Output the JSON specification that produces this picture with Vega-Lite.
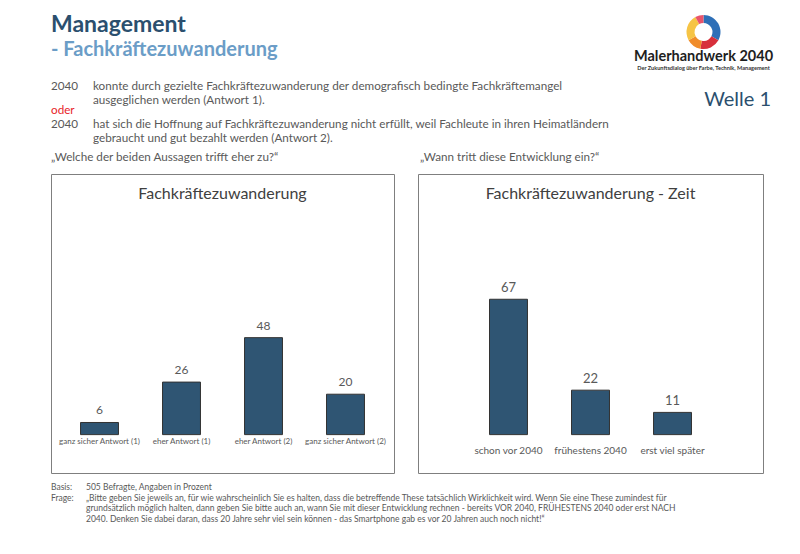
{
  "$schema": "https://vega.github.io/schema/vega-lite/v6.json",
  "padding": {"left": 50, "top": 0, "right": 0, "bottom": 0},
  "background": "white",
  "spacing": 6,
  "config": {
    "font": "Lato",
    "view": {"stroke": null},
    "axis": {"labelFont": "Lato"}
  },
  "datasets": {
    "kopf": [
      {"role": "title", "line": 1, "col": 0, "text": "Management"},
      {"role": "subtitle", "line": 3, "col": 0, "text": "- Fachkräftezuwanderung"},
      {"role": "ring", "line": 2, "col": 3, "nr": 1, "segment": "blau", "share": 33},
      {"role": "ring", "line": 2, "col": 3, "nr": 2, "segment": "rot", "share": 20},
      {"role": "ring", "line": 2, "col": 3, "nr": 3, "segment": "orange", "share": 14},
      {"role": "ring", "line": 2, "col": 3, "nr": 4, "segment": "gelb", "share": 25},
      {"role": "ring", "line": 2, "col": 3, "nr": 5, "segment": "rosa", "share": 8},
      {"role": "brand", "line": 4, "col": 3, "text": "Malerhandwerk 2040"},
      {"role": "tagline", "line": 5, "col": 3, "text": "Der Zukunftsdialog über Farbe, Technik, Management"},
      {"role": "body", "line": 6, "col": 0, "text": "2040"},
      {"role": "body", "line": 6, "col": 1, "text": "konnte durch gezielte Fachkräftezuwanderung der demografisch  bedingte Fachkräftemangel"},
      {"role": "body", "line": 7, "col": 1, "text": "ausgeglichen werden (Antwort 1)."},
      {"role": "welle", "line": 7, "col": 4, "text": "Welle 1"},
      {"role": "oder", "line": 8, "col": 0, "text": "oder"},
      {"role": "body", "line": 9, "col": 0, "text": "2040"},
      {"role": "body", "line": 9, "col": 1, "text": "hat sich die Hoffnung auf Fachkräftezuwanderung nicht erfüllt, weil Fachleute  in ihren Heimatländern"},
      {"role": "body", "line": 10, "col": 1, "text": "gebraucht und gut bezahlt werden (Antwort 2)."},
      {"role": "body", "line": 11, "col": 0, "text": "„Welche der beiden Aussagen trifft eher zu?“"},
      {"role": "body", "line": 11, "col": 2, "text": "„Wann tritt diese Entwicklung ein?“"}
    ],
    "aussage": [
      {"antwort": "ganz sicher Antwort (1)", "anteil": 6},
      {"antwort": "eher Antwort (1)", "anteil": 26},
      {"antwort": "eher Antwort (2)", "anteil": 48},
      {"antwort": "ganz sicher Antwort (2)", "anteil": 20}
    ],
    "zeit": [
      {"zeitpunkt": "schon vor 2040", "anteil": 67},
      {"zeitpunkt": "frühestens 2040", "anteil": 22},
      {"zeitpunkt": "erst viel später", "anteil": 11}
    ],
    "fuss": [
      {"line": 1, "col": 0, "text": "Basis:"},
      {"line": 1, "col": 1, "text": "505 Befragte, Angaben in Prozent"},
      {"line": 2, "col": 0, "text": "Frage:"},
      {"line": 2, "col": 1, "text": "„Bitte geben Sie jeweils an, für wie wahrscheinlich Sie es halten, dass die betreffende These tatsächlich Wirklichkeit wird. Wenn Sie eine These zumindest für"},
      {"line": 3, "col": 1, "text": "grundsätzlich möglich halten, dann geben Sie bitte auch an, wann Sie mit dieser Entwicklung rechnen  - bereits VOR 2040, FRÜHESTENS 2040 oder erst NACH"},
      {"line": 4, "col": 1, "text": "2040. Denken Sie dabei daran, dass 20 Jahre sehr viel sein können - das Smartphone gab es vor 20 Jahren  auch noch nicht!“"}
    ]
  },
  "vconcat": [
    {
      "width": 723,
      "height": 167,
      "data": {"name": "kopf"},
      "encoding": {
        "x": {"field": "col", "type": "quantitative", "axis": null,
              "scale": {"domain": [0, 1, 2, 3, 4], "range": [0, 42, 369, 652.5, 720], "zero": false, "nice": false}},
        "y": {"field": "line", "type": "quantitative", "axis": null,
              "scale": {"domain": [1, 2, 3, 4, 5, 6, 7, 8, 9, 10, 11],
                        "range": [25, 32, 50, 57, 68, 86.2, 100.2, 110, 123.5, 137.5, 156.5], "zero": false, "nice": false}}
      },
      "layer": [
        {
          "transform": [{"filter": "datum.role === 'title'"}],
          "mark": {"type": "text", "align": "left", "baseline": "middle", "fontSize": 23, "fontWeight": "bold", "color": "#2b4f6e"},
          "encoding": {"text": {"field": "text"}}
        },
        {
          "transform": [{"filter": "datum.role === 'subtitle'"}],
          "mark": {"type": "text", "align": "left", "baseline": "middle", "fontSize": 20, "fontWeight": "bold", "color": "#6b9dc7"},
          "encoding": {"text": {"field": "text"}}
        },
        {
          "transform": [{"filter": "datum.role === 'ring'"}],
          "mark": {"type": "arc", "outerRadius": 17, "innerRadius": 9},
          "encoding": {
            "theta": {"field": "share", "type": "quantitative", "stack": true},
            "order": {"field": "nr"},
            "color": {"field": "segment", "type": "nominal", "legend": null,
                      "scale": {"domain": ["blau", "rot", "orange", "gelb", "rosa"],
                                "range": ["#2e6fb7", "#d7303b", "#f08c2a", "#f6c445", "#e9546b"]}}
          }
        },
        {
          "transform": [{"filter": "datum.role === 'brand'"}],
          "mark": {"type": "text", "align": "center", "baseline": "middle", "fontSize": 14.5, "fontWeight": "bold", "color": "#1e1e1e"},
          "encoding": {"text": {"field": "text"}}
        },
        {
          "transform": [{"filter": "datum.role === 'tagline'"}],
          "mark": {"type": "text", "align": "center", "baseline": "middle", "fontSize": 5.6, "fontWeight": "bold", "color": "#333333"},
          "encoding": {"text": {"field": "text"}}
        },
        {
          "transform": [{"filter": "datum.role === 'welle'"}],
          "mark": {"type": "text", "align": "right", "baseline": "middle", "fontSize": 20, "color": "#2b4f6e"},
          "encoding": {"text": {"field": "text"}}
        },
        {
          "transform": [{"filter": "datum.role === 'body'"}],
          "mark": {"type": "text", "align": "left", "baseline": "middle", "fontSize": 11.7, "color": "#595959"},
          "encoding": {"text": {"field": "text"}}
        },
        {
          "transform": [{"filter": "datum.role === 'oder'"}],
          "mark": {"type": "text", "align": "left", "baseline": "middle", "fontSize": 11.7, "color": "#e8232a"},
          "encoding": {"text": {"field": "text"}}
        }
      ]
    },
    {
      "spacing": 22,
      "hconcat": [
        {
          "width": 343,
          "height": 299,
          "view": {"stroke": "#7f7f7f", "strokeWidth": 1},
          "title": {"text": "Fachkräftezuwanderung", "fontSize": 16, "fontWeight": "normal", "color": "#404040", "baseline": "middle", "offset": -36},
          "data": {"name": "aussage"},
          "encoding": {
            "x": {"field": "antwort", "type": "nominal", "sort": null,
                  "scale": {"paddingInner": 0.537, "paddingOuter": 0.36},
                  "axis": {"title": null, "orient": "bottom", "offset": -38, "domain": false, "ticks": false,
                           "labelAngle": 0, "labelFontSize": 8, "labelColor": "#595959", "labelPadding": 2,
                           "labelOverlap": false, "labelLimit": 0}},
            "y": {"field": "anteil", "type": "quantitative", "axis": null,
                  "scale": {"domain": [-19, 129], "nice": false}}
          },
          "layer": [
            {"mark": {"type": "bar", "color": "#2f5573", "stroke": "#333333", "strokeWidth": 1}},
            {
              "mark": {"type": "text", "baseline": "bottom", "dy": -5, "fontSize": 12, "color": "#595959"},
              "encoding": {"text": {"field": "anteil", "type": "quantitative"}}
            }
          ]
        },
        {
          "width": 345,
          "height": 299,
          "view": {"stroke": "#7f7f7f", "strokeWidth": 1},
          "title": {"text": "Fachkräftezuwanderung  - Zeit", "fontSize": 16, "fontWeight": "normal", "color": "#404040", "baseline": "middle", "offset": -36},
          "data": {"name": "zeit"},
          "encoding": {
            "x": {"field": "zeitpunkt", "type": "nominal", "sort": null,
                  "scale": {"paddingInner": 0.537, "paddingOuter": 0.872},
                  "axis": {"title": null, "orient": "bottom", "offset": -38, "domain": false, "ticks": false,
                           "labelAngle": 0, "labelFontSize": 10, "labelColor": "#595959", "labelPadding": 10,
                           "labelOverlap": false, "labelLimit": 0}},
            "y": {"field": "anteil", "type": "quantitative", "axis": null,
                  "scale": {"domain": [-19, 129], "nice": false}}
          },
          "layer": [
            {"mark": {"type": "bar", "color": "#2f5573", "stroke": "#333333", "strokeWidth": 1}},
            {
              "mark": {"type": "text", "baseline": "bottom", "dy": -4, "fontSize": 13, "color": "#595959"},
              "encoding": {"text": {"field": "anteil", "type": "quantitative"}}
            }
          ]
        }
      ]
    },
    {
      "width": 723,
      "height": 45,
      "data": {"name": "fuss"},
      "mark": {"type": "text", "align": "left", "baseline": "middle", "fontSize": 8.5, "color": "#595959"},
      "encoding": {
        "x": {"field": "col", "type": "quantitative", "axis": null,
              "scale": {"domain": [0, 1], "range": [0, 35], "zero": false, "nice": false}},
        "y": {"field": "line", "type": "quantitative", "axis": null,
              "scale": {"domain": [1, 4], "range": [7, 39], "zero": false, "nice": false}},
        "text": {"field": "text"}
      }
    }
  ]
}
